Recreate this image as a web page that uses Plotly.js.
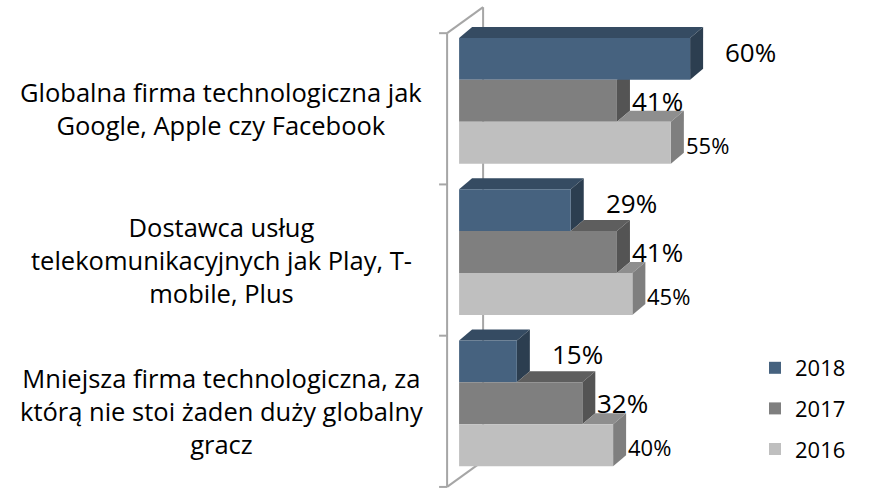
<!DOCTYPE html>
<html>
<head>
<meta charset="utf-8">
<script src="https://cdn.plot.ly/plotly-3.0.1.min.js"></script>
<style>
  html, body { margin: 0; padding: 0; background: #fff; }
  #chart { width: 871px; height: 488px; }
</style>
</head>
<body>
<div id="chart"></div>
<script>
// categories, top to bottom
const categories = [
  'Globalna firma technologiczna jak<br>Google, Apple czy Facebook',
  'Dostawca usług<br>telekomunikacyjnych jak Play, T-<br>mobile, Plus',
  'Mniejsza firma technologiczna, za<br>którą nie stoi żaden duży globalny<br>gracz'
];
const years = ['2018', '2017', '2016'];
const values2018 = [60, 29, 15];
const values2017 = [41, 41, 32];
const values2016 = [55, 45, 40];

const frontColors = ['#46627f', '#7f7f7f', '#bfbfbf'];
const topColors   = ['#354b62', '#5e5e5e', '#8e8e8e'];
const sideColors  = ['#2c3e50', '#545454', '#7f7f7f'];

// geometry of the plot area (pixels)
const M = { l: 436, r: 127, t: 4, b: 0 };
const xRange = [-6, 74];
const yRange = [2.56, -0.64];
const pxX = (871 - M.l - M.r) / (xRange[1] - xRange[0]);
const pxY = (488 - M.t - M.b) / (yRange[0] - yRange[1]);
const ux = p => p / pxX;
const uy = p => p / pxY;

const series = [values2018, values2017, values2016];
const idx = categories.map((c, i) => i);
const bargap = 0.168;
const barW = (1 - bargap) / series.length;
const DX = ux(13), DY = uy(11);     // bar depth
const floorShift = uy(8);

const traces = series.map((vals, j) => ({
  type: 'bar',
  orientation: 'h',
  name: years[j],
  legendgroup: years[j],
  x: vals,
  y: idx,
  marker: { color: frontColors[j], line: { width: 0 } },
  hoverinfo: 'x+name'
}));

const poly = pts => 'M' + pts.map(p => p[0] + ',' + p[1]).join(' L') + ' Z';
const shapes = [];
const frameLine = { color: '#a6a6a6', width: 2 };

// 3D frame: front axis, back wall edge, diagonals, ticks
const frontX = ux(-12), backX = ux(24);
const yTopFront = -0.5 + floorShift, yBotFront = idx.length - 0.5 + floorShift;
const wallRise = uy(26);
shapes.push({ type: 'line', xref: 'x', yref: 'y', layer: 'below', x0: backX, x1: backX,
  y0: yTopFront - wallRise, y1: yBotFront - wallRise, line: frameLine });
shapes.push({ type: 'line', xref: 'x', yref: 'y', layer: 'below', x0: frontX, x1: backX,
  y0: yTopFront, y1: yTopFront - wallRise, line: frameLine });
shapes.push({ type: 'line', xref: 'x', yref: 'y', layer: 'below', x0: frontX, x1: backX,
  y0: yBotFront, y1: yBotFront - wallRise, line: frameLine });
shapes.push({ type: 'line', xref: 'x', yref: 'y', layer: 'below', x0: frontX, x1: frontX,
  y0: yTopFront, y1: yBotFront, line: frameLine });
for (let i = 0; i <= idx.length; i++) {
  const yb = i - 0.5 + floorShift;
  shapes.push({ type: 'line', xref: 'x', yref: 'y', layer: 'below', x0: ux(-20), x1: frontX,
    y0: yb, y1: yb, line: frameLine });
}

// depth faces of every bar
const annotations = [];
idx.forEach(i => {
  series.forEach((vals, j) => {
    const v = vals[i];
    const c = i + (j - (series.length - 1) / 2) * barW;
    const yT = c - barW / 2, yB = c + barW / 2;
    const xs = j === 0 ? 0 : series[j - 1][i];
    if (v > xs) {
      shapes.push({ type: 'path', xref: 'x', yref: 'y', layer: 'below', line: { width: 0 },
        fillcolor: topColors[j],
        path: poly([[xs, yT], [v, yT], [v + DX, yT - DY], [xs + DX, yT - DY]]) });
    }
    shapes.push({ type: 'path', xref: 'x', yref: 'y', layer: 'below', line: { width: 0 },
      fillcolor: sideColors[j],
      path: poly([[v, yT], [v, yB], [v + DX, yB - DY], [v + DX, yT - DY]]) });

    annotations.push({
      x: v + DX, y: c + (j === 0 ? -uy(7) : j === 2 ? uy(2) : 0),
      xref: 'x', yref: 'y', xanchor: 'left', yanchor: 'middle',
      xshift: j === 0 ? 20 : 0, showarrow: false,
      text: v + '%',
      font: { size: j === 2 ? 22 : 26, color: '#000' }
    });
  });
  annotations.push({
    x: (221 - M.l) / (871 - M.l - M.r), xref: 'paper', xanchor: 'center',
    y: i + floorShift, yref: 'y', yanchor: 'middle',
    text: categories[i], showarrow: false, align: 'center',
    font: { size: 25.5, color: '#000' }
  });
});

Plotly.newPlot('chart', traces, {
  width: 871,
  height: 488,
  margin: M,
  barmode: 'group',
  bargap: bargap,
  bargroupgap: 0,
  paper_bgcolor: '#fff',
  plot_bgcolor: 'rgba(0,0,0,0)',
  font: { family: '"Open Sans", "Noto Sans", sans-serif', color: '#000' },
  xaxis: { range: xRange, visible: false, fixedrange: true },
  yaxis: { range: yRange, visible: false, fixedrange: true },
  showlegend: true,
  legend: {
    x: (755 - M.l) / (871 - M.l - M.r), xanchor: 'left',
    y: (488 - 347) / (488 - M.t - M.b), yanchor: 'top',
    font: { size: 22, color: '#000' },
    tracegroupgap: 9,
    bgcolor: 'rgba(0,0,0,0)'
  },
  shapes: shapes,
  annotations: annotations
}, { displayModeBar: false, staticPlot: true });
</script>
</body>
</html>
